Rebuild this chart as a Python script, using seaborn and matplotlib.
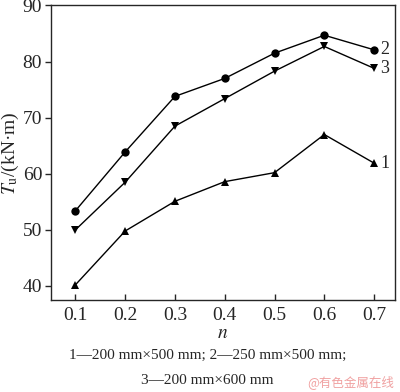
import matplotlib
matplotlib.use("Agg")
import numpy as np
import pandas as pd
import matplotlib.pyplot as plt
import seaborn as sns

n_vals = [0.1, 0.2, 0.3, 0.4, 0.5, 0.6, 0.7]
tu_1 = [40.2, 49.8, 55.1, 58.6, 60.2, 67.0, 61.9]
tu_2 = [53.4, 63.9, 73.8, 77.0, 81.5, 84.7, 82.1]
tu_3 = [50.0, 58.5, 68.5, 73.4, 78.3, 82.7, 78.8]
series_names = ["1", "2", "3"]
caption_1 = "1\u2014200 mm\u00d7500 mm; 2\u2014250 mm\u00d7500 mm;"
caption_2 = "3\u2014200 mm\u00d7600 mm"

df = pd.DataFrame({
    "n": n_vals * 3,
    "Tu": tu_1 + tu_2 + tu_3,
    "series": sum([[s] * len(n_vals) for s in series_names], []),
})

sns.set_style("ticks")
plt.rcParams["font.family"] = ["Liberation Serif", "DejaVu Serif"]
plt.rcParams["mathtext.fontset"] = "stix"

fig = plt.figure(figsize=(4.0, 3.92), dpi=100)
ax = fig.add_axes([50.5 / 400, 1 - 300 / 392, 344.5 / 400, 294.5 / 392])

markers = {"1": "^", "2": "o", "3": "v"}
sns.lineplot(data=df, x="n", y="Tu", hue="series", style="series",
             markers=markers, dashes=False, palette=["black"] * 3,
             markersize=6, markeredgewidth=0, linewidth=1.0,
             legend=False, ax=ax)

for name, vals in zip(series_names, [tu_1, tu_2, tu_3]):
    ax.text(n_vals[-1] + 0.012, vals[-1], name, fontsize=13,
            va="center", ha="left")

ax.set_xlim(0.05, 0.742)
ax.set_ylim(37.5, 90)
ax.set_xticks(n_vals)
ax.set_xticklabels([f"{v:.1f}" for v in n_vals])
ax.set_yticks([40, 50, 60, 70, 80, 90])
ax.tick_params(axis="x", direction="in", length=4, width=1, labelsize=14, pad=5)
ax.tick_params(axis="y", direction="out", length=4, width=1, labelsize=14, pad=2)
for sp in ax.spines.values():
    sp.set_linewidth(1.0)
    sp.set_visible(True)

ax.set_xlabel("$n$", fontsize=14, labelpad=1)
ax.set_ylabel("$T_{\\mathrm{u}}$/(kN\u00b7m)", fontsize=14, labelpad=1)

fig.text(0.518, 1 - 355 / 392, caption_1, ha="center", va="center", fontsize=11)
fig.text(0.518, 1 - 380 / 392, caption_2, ha="center", va="center", fontsize=11)
fig.text(0.985, 0.008, "@\u6709\u8272\u91d1\u5c5e\u5728\u7ebf", ha="right", va="bottom",
         fontsize=9, color="#f0a0a0", family=["Noto Sans CJK SC", "DejaVu Sans"])

fig.savefig("out.png", dpi=100)
